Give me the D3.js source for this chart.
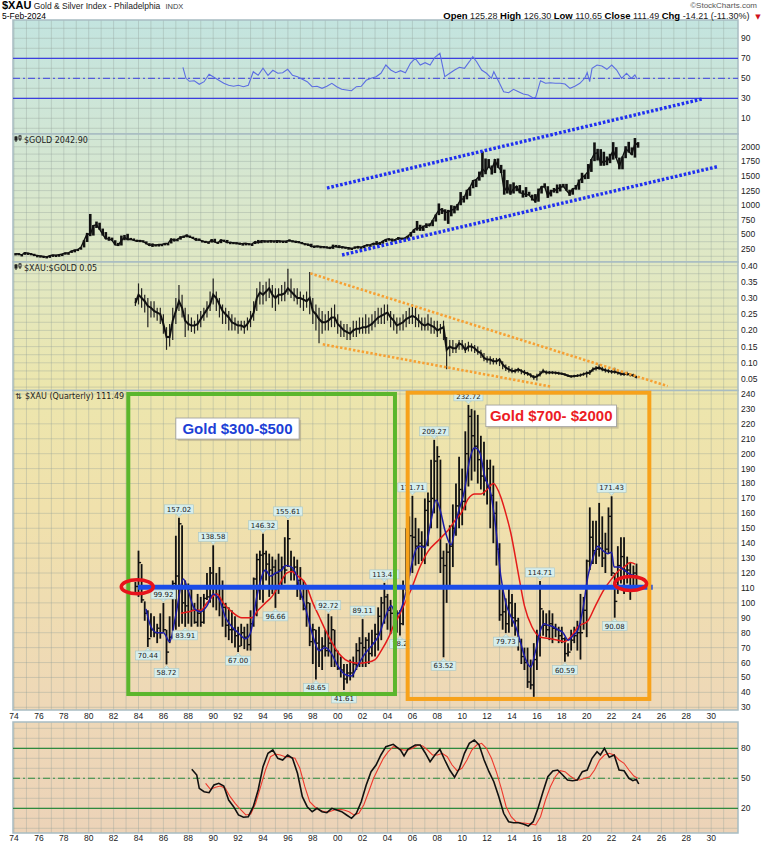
<!DOCTYPE html>
<html>
<head>
<meta charset="utf-8">
<script src="https://cdn.jsdelivr.net/npm/d3@7"></script>
<style>
  body { margin: 0; background: #fff; }
  text { font-family: 'DejaVu Sans', sans-serif; }
</style>
</head>
<body>
<div id="chart"></div>
<script>
// ---------------- data ----------------
const quote = [['Open', ' 125.28 '], ['High', ' 126.30 '], ['Low', ' 110.65 '], ['Close', ' 111.49 '], ['Chg', ' -14.21 (-11.30%) ']];

// $GOLD, quarterly, first bar 1974 Q1
const goldStart = 1974.125;
const goldClose = [170,165,150,187, 178,166,142,140, 129,124,116,134, 149,143,154,165, 181,183,217,226, 240,278,397,512, 494,653,666,590, 500,422,428,400, 320,315,397,448, 414,416,397,382,
  394,376,344,309, 327,317,326,327, 344,345,424,391, 421,447,460,484, 456,436,398,410, 383,373,366,401, 368,352,408,386, 355,367,354,353, 341,343,349,333, 337,376,355,391,
  389,385,394,383, 392,387,384,387, 396,382,379,369, 348,334,332,290, 297,296,293,287, 280,261,299,288, 277,288,273,272, 258,270,293,279, 301,318,324,347, 336,346,385,416,
  427,395,415,438, 428,436,473,513, 582,613,599,632, 662,650,742,834, 916,930,874,884, 916,934,1003,1096, 1113,1244,1307,1421, 1439,1500,1624,1566, 1668,1598,1772,1657, 1595,1234,1326,1202,
  1284,1327,1216,1199, 1183,1172,1114,1061, 1234,1321,1316,1152, 1249,1242,1280,1303, 1325,1251,1192,1282, 1292,1409,1472,1517, 1577,1781,1886,1895, 1708,1763,1743,1829, 1937,1807,1661,1824, 1969,1919,1866,2063,
  2043];
const goldHigh = [180,180,160,197, 186,180,168,145, 140,133,126,136, 152,150,155,166, 190,188,220,245, 252,280,400,525, 850,660,720,700, 600,540,460,445, 400,355,480,490, 510,440,430,410,
  405,400,380,350, 345,330,330,335, 350,350,430,430, 420,470,480,500, 480,460,440,430, 400,390,375,420, 425,375,415,410, 405,370,370,365, 360,345,350,350, 340,380,405,395,
  395,395,395,395, 390,395,390,390, 415,400,390,385, 370,350,340,340, 305,310,300,300, 295,290,325,320, 315,295,290,275, 270,295,295,290, 305,330,325,350, 385,370,390,418,
  430,430,418,455, 445,445,475,540, 585,730,665,650, 690,690,745,840, 1030,950,930,920, 1000,990,1020,1225, 1160,1265,1310,1430, 1445,1575,1920,1800, 1790,1680,1790,1800, 1690,1610,1430,1360,
  1390,1330,1345,1255, 1310,1230,1180,1190, 1285,1325,1375,1325, 1265,1295,1355,1360, 1365,1365,1265,1285, 1345,1440,1555,1520, 1705,1790,2075,1965, 1960,1915,1835,1880, 2080,1995,1815,1835, 2010,2085,1990,2150,
  2080];
const goldLow = [140,150,130,150, 170,164,128,130, 125,123,103,115, 130,140,143,154, 165,170,183,193, 233,238,277,370, 470,480,610,580, 480,420,390,390, 315,300,310,400, 400,405,395,375,
  370,370,330,305, 285,310,315,320, 330,335,345,380, 390,410,440,450, 440,430,395,390, 380,360,355,360, 365,345,350,380, 355,350,345,345, 340,335,340,330, 325,335,350,350,
  375,375,380,375, 372,380,380,380, 390,380,378,365, 340,330,315,285, 280,285,272,285, 280,255,252,280, 275,270,270,265, 255,255,265,270, 280,300,300,310, 320,320,340,370,
  400,375,385,405, 410,415,415,460, 525,565,560,560, 610,640,640,720, 830,850,735,680, 810,860,910,1000, 1045,1100,1160,1290, 1310,1420,1480,1530, 1640,1525,1550,1640, 1550,1180,1200,1180,
  1200,1240,1205,1130, 1140,1170,1080,1045, 1060,1200,1300,1125, 1150,1215,1205,1235, 1305,1250,1160,1180, 1265,1265,1380,1445, 1450,1570,1755,1765, 1675,1675,1685,1720, 1780,1805,1615,1615, 1805,1900,1860,1815,
  1985];

// $XAU:$GOLD ratio, quarterly from 1983 Q4
const ratioStart = 1983.75;
const ratioClose = [.284, .31,.30,.29,.275, .27,.26,.255,.25, .22,.18,.18,.23, .26,.29,.27,.23, .22,.215,.215,.22, .235,.25,.265,.28, .31,.30,.28,.26, .25,.24,.225,.22, .215,.215,.21,.22,
  .235,.255,.30,.317, .31,.32,.33,.31, .30,.31,.31,.315, .33,.32,.31,.30, .30,.295,.29,.30, .26,.25,.235,.225, .225,.23,.24,.24, .22,.21,.20,.195, .19,.20,.205,.205, .21,.21,.214,.22,
  .23,.24,.245,.25, .255,.24,.23,.215, .22,.225,.235,.24, .245,.24,.23,.22, .215,.22,.215,.21, .20,.205,.21,.14, .15,.145,.145,.16, .155,.14,.15,.15, .145,.135,.13,.115, .11,.11,.105,.105,
  .11,.095,.085,.08, .075,.075,.08,.075, .07,.067,.062,.055, .058,.065,.075,.07, .07,.07,.069,.068, .066,.064,.06,.058, .059,.06,.062,.065, .068,.07,.08,.083, .085,.08,.077,.075, .072,.072,.07,.066,
  .065,.066,.063,.061, .055];
const ratioHigh = [.30, .345,.33,.31,.30, .29,.29,.27,.27, .25,.21,.22,.27, .30,.34,.31,.27, .25,.24,.23,.25, .26,.27,.29,.32, .36,.32,.30,.28, .27,.26,.25,.24, .23,.23,.23,.24,
  .26,.29,.33,.35, .34,.35,.36,.34, .33,.33,.34,.35, .39,.36,.33,.33, .32,.31,.32,.38, .30,.28,.27,.26, .25,.26,.27,.28, .25,.23,.22,.22, .21,.23,.23,.24, .24,.25,.24,.25,
  .26,.27,.27,.28, .28,.26,.25,.24, .24,.25,.26,.27, .28,.27,.25,.24, .24,.25,.24,.23, .23,.22,.23,.18, .17,.17,.16,.17, .17,.16,.165,.16, .155,.15,.14,.13, .12,.12,.115,.115,
  .115,.105,.095,.09, .085,.082,.085,.08, .078,.072,.068,.062, .066,.075,.082,.076, .075,.074,.073,.072, .07,.068,.065,.062, .063,.065,.067,.07, .074,.078,.086,.09, .095,.088,.083,.08, .078,.085,.076,.072,
  .07,.072,.068,.066, .06];
const ratioLow = [.275, .28,.27,.255,.21, .24,.24,.23,.22, .19,.14,.15,.17, .22,.26,.24,.18, .20,.195,.19,.20, .21,.23,.24,.26, .28,.26,.24,.22, .22,.20,.20,.20, .19,.20,.19,.20,
  .21,.23,.26,.28, .28,.29,.30,.27, .26,.28,.29,.29, .31,.30,.29,.28, .27,.26,.27,.25, .22,.20,.16,.19, .20,.20,.21,.21, .19,.18,.18,.17, .17,.18,.18,.19, .19,.19,.19,.20,
  .21,.22,.22,.22, .23,.21,.20,.19, .20,.20,.21,.22, .22,.21,.21,.20, .20,.20,.19,.19, .18,.19,.17,.08, .12,.13,.13,.14, .14,.13,.135,.135, .13,.125,.115,.105, .10,.095,.095,.095,
  .09,.08,.075,.07, .068,.068,.07,.065, .062,.06,.055,.048, .045,.058,.068,.064, .065,.065,.064,.063, .062,.06,.056,.054, .055,.056,.057,.06, .055,.062,.072,.076, .078,.074,.07,.068, .066,.066,.063,.06,
  .06,.06,.058,.056, .052];

// $XAU quarterly bars, first bar plotted at 1983.75
const xauStart = 1983.75;
const xauHigh = [114, 135,126,101,95, 93,91,86,93, 99.92,82,91,115, 145,157.02,152,115, 113,111,100,106, 104,106,120,124, 138.58,120,124,115, 100,97,95,91, 84,86,84,86,
  95,117,133,135, 146.32,135,133,131, 129,133,131,144, 155.61,135,131,129, 124,115,109,100, 86,82,84,77, 82,92.72,91,82, 68,64,59,59, 62,64,73,77, 89.11,77,80,82,
  86,97,104,113.4, 106,102,97,95, 95,115,150,158, 171.71,157,150,148, 170,174,196,209.27, 205,196,135,140, 152,166,180,198, 190,215,232.72,230, 229,226,212,208,
  196,196,192,168, 140,112,103,110, 106,100,90,76, 70,70,62,73, 82,114.71,95,93, 95,93,86,84, 84,77,73,82, 84,88,106,104, 129,164,155,155, 167,158,147,164,
  171.43,120,138,144, 144,131,127,125, 126.3];
const xauLow = [106, 104,100,88,70.44, 77,77,73,76, 80,58.72,73,76, 82,84,86,83.91, 86,84,86,84, 84,86,102,100, 97,95,91,84, 77,75,73,70, 67.00,71,69,68,
  68,84,91,102, 100,115,104,106, 96.66,106,111,113, 124,115,115,104, 102,95,84,71, 59,48.65,57,55, 64,64,57,57, 55,50,41.61,46, 48,50,55,57, 57,57,59,64,
  64,68,75,86, 82,79,80,80, 78.2,85,108,118, 120,125,126,128, 126,138,150,160, 150,120,63.52,100, 112,124,145,150, 152,162,178,182, 188,180,176,172,
  166,150,140,125, 88,82,79.73,80, 84,78,68,59, 55,43,42,37, 55,64,78,77, 75,73,77,73, 73,60.59,64,68, 73,68,62,82, 77,122,126,126, 131,124,120,133,
  118,90.08,106,113, 106,113,102,109, 110.65];
const xauClose = [111, 127,102,93,76, 82,80,83,80, 82,67,77,113, 118,153,100,98, 109,95,87,93, 87,103,104,120, 111,104,102,97, 85,82,82,78, 71,80,77,72,
  86,116,129,132, 133,126,122,124, 120,122,124,122, 143,122,124,115, 104,96,100,74, 82,73,68,71, 68,73,82,68, 56,55,49,53, 53,59,68,73, 70,75,66,73,
  79,91,100,104, 95,93,84,93, 86,110,140,145, 144,138,140,138, 162,168,170,195, 198,130,125,134, 138,150,165,176, 168,200,225,212, 205,196,185,182,
  190,172,160,136, 92,94,86,100, 90,88,74,64, 60,47,45,62, 78,96,85,82, 86,83,82,78, 76,66,67,75, 78,80,80,95, 128,144,135,136, 140,130,136,158,
  120,101,125,131, 122,122,118,120, 111.49];

// swing labels: [bar index, text, side]
const xauSwings = [[4,'70.44','lo'],[9,'99.92','hi'],[10,'58.72','lo'],[14,'157.02','hi'],[16,'83.91','lo'],[25,'138.58','hi'],[33,'67.00','lo'],
  [41,'146.32','hi'],[45,'96.66','lo'],[49,'155.61','hi'],[58,'48.65','lo'],[62,'92.72','hi'],[67,'41.61','lo'],[73,'89.11','hi'],[80,'113.41','hi'],
  [85,'78.2','lo'],[89,'171.71','hi'],[96,'209.27','hi'],[99,'63.52','lo'],[107,'232.72','hi'],[119,'79.73','lo'],[130,'114.71','hi'],[138,'60.59','lo'],
  [153,'171.43','hi'],[154,'90.08','lo']];

// moving averages on the $XAU panel [year, value]
const xauMaFast = [[1984.6,96],[1985.0,84],[1985.5,80],[1986.0,80],[1986.5,74],[1987.0,92],[1987.6,116],[1988.0,108],[1988.5,96],[1989.0,94],[1989.5,98],
  [1990.0,106],[1990.5,102],[1991.0,90],[1991.5,84],[1992.0,80],[1992.6,76],[1993.0,80],[1993.5,104],[1994.2,122],[1994.6,118],[1995.0,120],[1995.5,122],
  [1995.8,125],[1996.3,124],[1996.7,118],[1997.0,108],[1997.4,97],[1998.0,78],[1998.5,68],[1999.0,70],[1999.5,66],[2000.0,58],[2000.6,52],[2001.1,51],
  [2001.6,58],[2002.2,66],[2002.8,72],[2003.3,78],[2003.8,90],[2004.3,98],[2004.7,92],[2005.1,96],[2005.5,108],[2005.9,124],[2006.3,136],[2006.6,138],
  [2007.0,137],[2007.5,155],[2007.9,169],[2008.3,160],[2008.6,149],[2009.1,139],[2009.6,158],[2010.2,176],[2010.6,196],[2011.0,204],[2011.4,201],
  [2011.8,185],[2012.3,173],[2012.7,150],[2013.1,118],[2013.5,100],[2013.9,91],[2014.3,84],[2014.7,73],[2015.1,62],[2015.5,57],[2015.9,68],[2016.3,82],
  [2016.6,86],[2016.9,85],[2017.3,84],[2017.7,82],[2018.1,80],[2018.5,75],[2018.9,78],[2019.3,82],[2019.7,96],[2020.1,118],[2020.5,130],[2020.9,138],
  [2021.3,135],[2021.7,133],[2022.0,134],[2022.2,124],[2022.6,124],[2023.0,122],[2023.5,119],[2024.0,118]];
const xauMaSlow = [[1987.4,93],[1988.0,94],[1988.5,95],[1989.0,95],[1989.5,100],[1990.3,106],[1990.8,100],[1991.5,94],[1992.3,90],[1993.1,90],[1993.6,95],
  [1994.2,100],[1994.7,104],[1995.3,112],[1995.9,120],[1996.3,121],[1996.8,118],[1997.4,113],[1998.0,100],[1998.5,91],[1999.0,82],[1999.5,74],[2000.1,66],
  [2000.6,62],[2001.2,60],[2001.7,59.5],[2002.3,60],[2003.0,62],[2003.5,68],[2004.1,77],[2004.5,85],[2004.9,91],[2005.4,100],[2005.9,109],[2006.6,124],
  [2007.3,135],[2008.1,142],[2008.9,149],[2009.5,156],[2009.9,160],[2010.5,170],[2011.0,173],[2011.5,173],[2012.0,176],[2012.5,180],[2013.1,171],[2013.5,160],
  [2013.9,147],[2014.5,120],[2015.0,98],[2015.6,84],[2016.3,77],[2017.1,76],[2017.7,75],[2018.2,74],[2018.8,78],[2019.3,84],[2020.1,88],[2020.7,98],
  [2021.4,109],[2022.0,116],[2022.5,121],[2023.0,124],[2023.5,127],[2023.9,126]];

// top panel oscillator [year, value]
const rsiTop = [[1987.57,61],[1987.81,50],[1988.09,47],[1988.48,47.5],[1988.88,44],[1989.27,46.6],[1989.67,54],[1990.06,51],[1990.45,48],[1990.85,45],
  [1991.24,43],[1991.64,42],[1992.03,43],[1992.43,41.6],[1992.82,43],[1993.22,56.6],[1993.61,53],[1994.0,60],[1994.4,53],[1994.79,58],[1995.19,55],
  [1995.58,55.6],[1995.98,59],[1996.37,53],[1996.77,51.6],[1997.16,49],[1997.55,46.6],[1997.95,41.6],[1998.34,42],[1998.74,40],[1999.13,42],[1999.53,45],
  [1999.92,41.6],[2000.32,39],[2000.71,38.3],[2001.11,37.6],[2001.5,41.6],[2001.89,42],[2002.29,48],[2002.68,50],[2003.08,51.6],[2003.47,55],[2003.87,63.3],
  [2004.26,58.3],[2004.66,55.6],[2005.05,57.6],[2005.44,55.6],[2005.84,65],[2006.23,70],[2006.63,63.3],[2007.02,65.6],[2007.42,63.3],[2007.81,71],[2008.21,75],
  [2008.6,51.6],[2009.0,55],[2009.39,58.3],[2009.78,61],[2010.18,60],[2010.57,66.6],[2010.85,71.6],[2011.16,66.6],[2011.56,58.3],[2011.95,55],[2012.35,50],
  [2012.54,56.6],[2012.94,46.6],[2013.33,36.6],[2013.73,35.6],[2014.12,39],[2014.52,36.6],[2014.91,34.3],[2015.31,33.3],[2015.7,30.3],[2015.9,31],[2016.29,47.6],
  [2016.69,45],[2017.08,45.6],[2017.48,45],[2017.87,45],[2018.26,44.3],[2018.66,40],[2019.05,42],[2019.45,45],[2019.84,50],[2020.04,55.6],[2020.24,46.6],
  [2020.43,60],[2020.83,63.3],[2021.22,62.3],[2021.62,59],[2022.01,63.3],[2022.41,58.3],[2022.8,50],[2023.2,55],[2023.59,50],[2023.87,53.3],[2024.06,49]];

// bottom panel oscillator: %K (black) and %D (red)
const stoK = [[1988.28,59],[1988.68,53.3],[1988.88,40],[1989.27,36.6],[1989.67,35.6],[1990.06,43.3],[1990.45,45],[1990.85,42.3],[1991.24,28.3],[1991.64,21.6],
  [1992.03,13.3],[1992.43,11],[1992.82,11.6],[1993.22,21.6],[1993.61,38.3],[1994.0,61.6],[1994.4,75],[1994.79,78.3],[1995.19,70],[1995.58,68.3],[1995.98,73.3],
  [1996.37,70],[1996.77,55],[1997.16,31.6],[1997.55,21.6],[1997.95,16.6],[1998.34,20],[1998.74,16.6],[1999.13,15.6],[1999.53,20],[1999.92,18.3],[2000.32,16.6],
  [2000.71,13.3],[2001.11,10],[2001.5,15],[2001.89,26.6],[2002.29,43.3],[2002.68,56.6],[2003.08,63.3],[2003.47,73.3],[2003.87,81.6],[2004.46,84],[2005.05,78.3],
  [2005.33,72.3],[2005.64,79],[2006.23,83.3],[2006.63,83.3],[2007.02,75.6],[2007.42,66.6],[2007.81,73.3],[2008.21,79],[2008.6,68.3],[2009.0,58.3],[2009.39,51],
  [2009.78,60],[2010.18,75],[2010.57,85],[2010.97,88.3],[2011.36,83.3],[2011.76,68.3],[2012.15,56.6],[2012.54,46.6],[2012.94,31.6],[2013.33,15],[2013.73,6.6],
  [2014.12,5.6],[2014.52,5.6],[2014.91,4.3],[2015.31,2.3],[2015.7,6.6],[2016.09,20],[2016.49,36.6],[2016.88,51.6],[2017.28,57.3],[2017.67,58.3],[2018.07,53.3],
  [2018.46,48.3],[2018.86,47.6],[2019.25,48.3],[2019.65,56.6],[2020.04,58.3],[2020.43,70],[2020.83,76.6],[2021.1,73.3],[2021.42,80],[2021.81,71],[2022.21,73.3],
  [2022.6,58.3],[2023.0,57.6],[2023.39,50],[2023.71,47.6],[2023.98,49],[2024.18,44.3]];
const stoD = [[1989.39,45],[1989.78,39],[1990.18,41],[1990.57,42.3],[1990.97,40],[1991.36,31.6],[1991.76,25],[1992.23,18.3],[1992.62,13.3],[1993.02,14.3],
  [1993.41,25],[1993.81,41.6],[1994.2,58.3],[1994.6,71.6],[1994.99,74.3],[1995.39,73.3],[1995.78,71.6],[1996.17,71],[1996.57,70],[1996.96,60],[1997.36,41.6],
  [1997.75,26.6],[1998.15,21.6],[1998.54,18.3],[1998.94,16.6],[1999.33,16.6],[1999.72,18.3],[2000.12,19],[2000.51,18.3],[2000.91,16.6],[2001.3,13.3],[2001.7,15],
  [2002.09,23.3],[2002.49,36.6],[2002.88,50],[2003.27,60],[2003.67,70],[2004.06,76.6],[2004.46,81.6],[2004.85,80],[2005.25,78.3],[2005.64,78.3],[2006.04,80],
  [2006.43,83.3],[2006.83,82.3],[2007.22,78.3],[2007.61,73.3],[2008.01,73.3],[2008.4,75],[2008.8,71.6],[2009.19,63.3],[2009.59,57.6],[2009.98,60],[2010.38,68.3],
  [2010.77,78.3],[2011.16,83.3],[2011.56,85],[2011.95,80],[2012.35,70],[2012.74,56.6],[2013.14,40],[2013.53,21.6],[2013.93,11.6],[2014.32,6.6],[2014.72,5.6],
  [2015.11,5],[2015.5,4.3],[2015.9,3.3],[2016.29,11.6],[2016.69,28.3],[2017.08,41.6],[2017.48,51.6],[2017.87,57.6],[2018.26,56.6],[2018.66,52.3],[2019.05,49],
  [2019.45,48.3],[2019.84,50],[2020.24,51.6],[2020.63,58.3],[2021.03,68.3],[2021.42,73.3],[2021.81,75],[2022.21,73.3],[2022.6,68.3],[2023.0,65],[2023.39,58.3],
  [2023.79,52.3],[2024.1,50]];

// drawn annotations, in data units
const goldChannel = [[[1999.14, 1294], [2029.26, 2818]], [[2000.35, 147], [2030.47, 1659]]];
const ratioWedge = [[[1997.8, 0.376], [2026.5, 0.028]], [[1998.8, 0.157], [2017.2, 0.026]]];
const eraBoxes = [[1983.18, 2004.6, 240, 38.9, '#5bb62c'], [2005.62, 2025.03, 240.9, 35.6, '#f7a21b']];
const eraNotes = [['Gold $300-$500', 1987.0, 1996.9, 223.9, 209.8, '#1c3fd6'], ['Gold $700- $2000', 2011.9, 2022.4, 232.6, 218.1, '#ec1c24']];
const xauLevel = [1983.96, 2025.3, 110.4];
const xauRings = [[1983.9, 110.8], [2023.53, 113]];

// ---------------- chart ----------------
const width = 765, height = 846;
const left = 13, right = 738;
const x = d3.scaleLinear().domain([1974, 2030]).range([14, 711.2]);

const panels = {
  rsi:   { top: 20,    bottom: 134,   y: d3.scaleLinear().domain([10, 90]).range([118.3, 38.3]),
           ticks: [10, 30, 50, 70, 90], grid: d3.range(0, 110, 10), fmt: d => d },
  gold:  { top: 134,   bottom: 262,   y: d3.scaleLinear().domain([0, 2000]).range([263.6, 146.8]),
           ticks: d3.range(250, 2001, 250), grid: d3.range(125, 2300, 125), fmt: d => d },
  ratio: { top: 262,   bottom: 390.5, y: d3.scaleLinear().domain([0.05, 0.40]).range([379, 265.6]),
           ticks: d3.range(1, 9).map(d => d * 0.05), grid: d3.range(1, 17).map(d => d * 0.025), fmt: d3.format('.2f') },
  xau:   { top: 390.5, bottom: 710,   y: d3.scaleLinear().domain([30, 240]).range([707.3, 394]),
           ticks: d3.range(30, 241, 10), grid: d3.range(30, 241, 10), fmt: d => d },
  sto:   { top: 722,   bottom: 833,   y: d3.scaleLinear().domain([20, 80]).range([808.3, 748.3]),
           ticks: [20, 50, 80], grid: d3.range(0, 110, 10), fmt: d => d }
};

const svg = d3.select('#chart').append('svg')
  .attr('width', width).attr('height', height);
svg.append('rect').attr('width', width).attr('height', height).attr('fill', '#fff');

const grad = svg.append('defs').append('linearGradient')
  .attr('id', 'bg').attr('gradientUnits', 'userSpaceOnUse')
  .attr('x1', 0).attr('x2', 0).attr('y1', 20).attr('y2', 833);
[[0, '#c3e4df'], [0.14, '#d1e6d5'], [0.3, '#e0e8c4'], [0.45, '#ece6ad'], [0.6, '#f0e1ac'], [0.84, '#eed8b7'], [1, '#ecd3b8']]
  .forEach(s => grad.append('stop').attr('offset', s[0]).attr('stop-color', s[1]));

Object.values(panels).forEach(p => {
  const g = svg.append('g');
  g.append('rect').attr('x', left).attr('y', p.top)
    .attr('width', right - left).attr('height', p.bottom - p.top)
    .attr('fill', 'url(#bg)');
  g.selectAll('line.v').data(d3.range(1974, 2032)).join('line')
    .attr('x1', d => x(d)).attr('x2', d => x(d))
    .attr('y1', p.top).attr('y2', p.bottom)
    .attr('stroke', '#8e9f98').attr('stroke-opacity', 0.35);
  g.selectAll('line.h').data(p.grid.filter(v => p.y(v) > p.top + 1 && p.y(v) < p.bottom - 1)).join('line')
    .attr('x1', left).attr('x2', right)
    .attr('y1', d => p.y(d)).attr('y2', d => p.y(d))
    .attr('stroke', '#8e9f98').attr('stroke-opacity', 0.35);
  g.append('rect').attr('x', left).attr('y', p.top)
    .attr('width', right - left).attr('height', p.bottom - p.top)
    .attr('fill', 'none').attr('stroke', '#a8bcc2').attr('stroke-width', 1.5);
  g.append('g').selectAll('text').data(p.ticks).join('text')
    .attr('x', right + 3).attr('y', d => p.y(d)).attr('dy', '0.35em')
    .style('font-family', "'Liberation Sans', sans-serif").style('font-size', '8.5px')
    .attr('fill', '#222').text(p.fmt);
});

// year labels
[716, 838].forEach(yy => {
  svg.append('g').selectAll('text').data(d3.range(1974, 2031, 2)).join('text')
    .attr('x', d => x(d)).attr('y', yy).attr('dy', '0.35em').attr('text-anchor', 'middle')
    .style('font-family', "'Liberation Sans', sans-serif").style('font-size', '8.5px')
    .attr('fill', '#222').text(d => String(d % 100).padStart(2, '0'));
});

// header
const narrow = "'Liberation Sans Narrow', 'Arial Narrow', 'Liberation Sans', sans-serif";
const h1 = svg.append('text').attr('x', 2).attr('y', 8.5).style('font-family', narrow);
h1.append('tspan').text('$XAU').style('font-weight', 'bold').style('font-size', '11px');
h1.append('tspan').text(' Gold & Silver Index - Philadelphia').style('font-size', '8.5px').attr('fill', '#222');
h1.append('tspan').text(' INDX').style('font-size', '7.5px').attr('fill', '#444').attr('dx', 3);
svg.append('text').attr('x', 757).attr('y', 8).attr('text-anchor', 'end')
  .style('font-family', narrow).style('font-size', '8px').attr('fill', '#555').text('©StockCharts.com');
svg.append('text').attr('x', 2).attr('y', 18.5).style('font-family', narrow).style('font-size', '8.5px').text('5-Feb-2024');
const h2 = svg.append('text').attr('x', 752).attr('y', 18.5).attr('text-anchor', 'end')
  .style('font-family', narrow).style('font-size', '9px').style('white-space', 'pre');
quote.forEach(q => {
  h2.append('tspan').text(q[0]).style('font-weight', 'bold').style('font-size', '9.5px');
  h2.append('tspan').text(q[1]).attr('fill', '#222');
});
svg.append('text').attr('x', 758).attr('y', 18.5).attr('text-anchor', 'middle')
  .style('font-size', '7px').attr('fill', '#d0121b').text('▼');

// small candle icon used by panel titles
const icon = (px, py) => {
  const g = svg.append('g').attr('stroke', '#222').attr('stroke-width', 1);
  g.append('line').attr('x1', px + 1).attr('x2', px + 1).attr('y1', py - 6).attr('y2', py);
  g.append('rect').attr('x', px).attr('y', py - 5).attr('width', 2).attr('height', 3).attr('fill', '#222');
  g.append('line').attr('x1', px + 5).attr('x2', px + 5).attr('y1', py - 7).attr('y2', py - 1);
  g.append('rect').attr('x', px + 4).attr('y', py - 6).attr('width', 2).attr('height', 3).attr('fill', '#fff');
};
const title = (px, py, txt) => svg.append('text').attr('x', px).attr('y', py)
  .style('font-size', '8px').attr('fill', '#222').text(txt);

// ---- top oscillator panel ----
{
  const p = panels.rsi;
  [70, 30].forEach(v => svg.append('line').attr('x1', left).attr('x2', right)
    .attr('y1', p.y(v)).attr('y2', p.y(v)).attr('stroke', '#3b3fe0').attr('stroke-width', 1.2));
  svg.append('line').attr('x1', left).attr('x2', right).attr('y1', p.y(50)).attr('y2', p.y(50))
    .attr('stroke', '#3b3fe0').attr('stroke-width', 1).attr('stroke-dasharray', '7,3,2,3');
  svg.append('path').datum(rsiTop)
    .attr('d', d3.line().x(d => x(d[0])).y(d => p.y(d[1])))
    .attr('fill', 'none').attr('stroke', '#5c6ee2').attr('stroke-width', 1.1);
}

// ---- gold panel ----
{
  const p = panels.gold;
  icon(15, 142);
  title(24, 142.5, '$GOLD 2042.90');
  svg.append('g').selectAll('rect').data(goldClose).join('rect')
    .attr('x', (d, i) => x(goldStart + i * 0.25) - 1.3).attr('width', 2.6)
    .attr('y', (d, i) => p.y(goldHigh[i]))
    .attr('height', (d, i) => Math.max(2.2, p.y(goldLow[i]) - p.y(goldHigh[i])))
    .attr('fill', '#111');
  svg.append('path').datum(goldClose)
    .attr('d', d3.line().x((d, i) => x(goldStart + i * 0.25)).y(d => p.y(d)))
    .attr('fill', 'none').attr('stroke', '#111').attr('stroke-width', 1.4);
  goldChannel.forEach(seg => svg.append('line')
    .attr('x1', x(seg[0][0])).attr('y1', p.y(seg[0][1]))
    .attr('x2', x(seg[1][0])).attr('y2', p.y(seg[1][1]))
    .attr('stroke', '#1f2ff0').attr('stroke-width', 3.4).attr('stroke-dasharray', '2.6,1.9'));
}

// ---- ratio panel ----
{
  const p = panels.ratio;
  icon(15, 270);
  title(24, 270.5, '$XAU:$GOLD 0.05');
  svg.append('g').selectAll('line').data(ratioClose).join('line')
    .attr('x1', (d, i) => x(ratioStart + i * 0.25)).attr('x2', (d, i) => x(ratioStart + i * 0.25))
    .attr('y1', (d, i) => p.y(ratioHigh[i])).attr('y2', (d, i) => p.y(ratioLow[i]))
    .attr('stroke', '#222').attr('stroke-width', 1.2);
  svg.append('path').datum(ratioClose)
    .attr('d', d3.line().x((d, i) => x(ratioStart + i * 0.25)).y(d => p.y(d)))
    .attr('fill', 'none').attr('stroke', '#111').attr('stroke-width', 2);
  ratioWedge.forEach(seg => svg.append('line')
    .attr('x1', x(seg[0][0])).attr('y1', p.y(seg[0][1]))
    .attr('x2', x(seg[1][0])).attr('y2', p.y(seg[1][1]))
    .attr('stroke', '#f7a033').attr('stroke-width', 2.6).attr('stroke-dasharray', '2.4,2'));
}

// ---- XAU quarterly panel ----
{
  const p = panels.xau;
  svg.append('text').attr('x', 15).attr('y', 398.5).style('font-size', '8px').attr('fill', '#222').text('⇅');
  title(25, 398.5, '$XAU (Quarterly) 111.49');
  const bx = i => x(xauStart + i * 0.25);
  const bars = svg.append('g').attr('stroke', '#111');
  bars.selectAll('line.hl').data(xauClose).join('line')
    .attr('x1', (d, i) => bx(i)).attr('x2', (d, i) => bx(i))
    .attr('y1', (d, i) => p.y(xauHigh[i])).attr('y2', (d, i) => p.y(xauLow[i]))
    .attr('stroke-width', 1.8);
  bars.selectAll('line.c').data(xauClose).join('line')
    .attr('x1', (d, i) => bx(i)).attr('x2', (d, i) => bx(i) + 2.6)
    .attr('y1', d => p.y(d)).attr('y2', d => p.y(d))
    .attr('stroke-width', 1.4);

  const ma = d3.line().x(d => x(d[0])).y(d => p.y(d[1])).curve(d3.curveMonotoneX);
  svg.append('path').datum(xauMaSlow).attr('d', ma)
    .attr('fill', 'none').attr('stroke', '#e41b1b').attr('stroke-width', 1.5);
  svg.append('path').datum(xauMaFast).attr('d', ma)
    .attr('fill', 'none').attr('stroke', '#1c1ca6').attr('stroke-width', 1.5);

  svg.append('line').attr('x1', x(xauLevel[0])).attr('x2', x(xauLevel[1]))
    .attr('y1', p.y(xauLevel[2])).attr('y2', p.y(xauLevel[2]))
    .attr('stroke', '#1b4ce8').attr('stroke-width', 5);

  // swing labels
  const lab = svg.append('g');
  xauSwings.forEach(([i, txt, side]) => {
    const cx = bx(i);
    const w = txt.length * 4.35 + 3, h = 9;
    const tip = side === 'hi' ? p.y(xauHigh[i]) - 1 : p.y(xauLow[i]) + 1;
    const y0 = side === 'hi' ? tip - 3 - h : tip + 3;
    const edge = side === 'hi' ? y0 + h : y0;
    lab.append('path')
      .attr('d', `M${cx - 3},${edge}L${cx + 3},${edge}L${cx},${tip}Z`)
      .attr('fill', '#d3eceb').attr('stroke', '#a9c7c6').attr('stroke-width', 0.6);
    lab.append('rect').attr('x', cx - w / 2).attr('y', y0).attr('width', w).attr('height', h)
      .attr('fill', '#d6eeed').attr('stroke', '#a9c7c6').attr('stroke-width', 0.6);
    lab.append('text').attr('x', cx).attr('y', y0 + h / 2).attr('dy', '0.35em')
      .attr('text-anchor', 'middle').style('font-size', '7px').attr('fill', '#222').text(txt);
  });

  eraBoxes.forEach(([t0, t1, v0, v1, c]) => svg.append('rect')
    .attr('x', x(t0)).attr('y', p.y(v0)).attr('width', x(t1) - x(t0)).attr('height', p.y(v1) - p.y(v0))
    .attr('fill', 'none').attr('stroke', c).attr('stroke-width', 4));

  eraNotes.forEach(([txt, t0, t1, v0, v1, c]) => {
    const bxx = x(t0), byy = p.y(v0), bw = x(t1) - x(t0), bh = p.y(v1) - p.y(v0);
    svg.append('rect').attr('x', bxx + 2).attr('y', byy + 2).attr('width', bw).attr('height', bh).attr('fill', '#b5ab8c').attr('opacity', 0.6);
    svg.append('rect').attr('x', bxx).attr('y', byy).attr('width', bw).attr('height', bh)
      .attr('fill', '#fff').attr('stroke', '#9a9a9a').attr('stroke-width', 0.8);
    svg.append('text').attr('x', bxx + bw / 2).attr('y', byy + bh / 2).attr('dy', '0.36em')
      .attr('text-anchor', 'middle').style('font-family', "'Liberation Sans', Arial, sans-serif")
      .style('font-weight', 'bold').style('font-size', '15px').attr('fill', c).text(txt);
  });

  xauRings.forEach(([t, v]) => svg.append('ellipse')
    .attr('cx', x(t)).attr('cy', p.y(v)).attr('rx', 16).attr('ry', 7)
    .attr('fill', 'none').attr('stroke', '#e8121b').attr('stroke-width', 3.5));
}

// ---- bottom oscillator panel ----
{
  const p = panels.sto;
  [80, 20].forEach(v => svg.append('line').attr('x1', left).attr('x2', right)
    .attr('y1', p.y(v)).attr('y2', p.y(v)).attr('stroke', '#2f8a3e').attr('stroke-width', 1.3));
  svg.append('line').attr('x1', left).attr('x2', right).attr('y1', p.y(50)).attr('y2', p.y(50))
    .attr('stroke', '#2f8a3e').attr('stroke-width', 1.1).attr('stroke-dasharray', '7,3,2,3');
  const ln = d3.line().x(d => x(d[0])).y(d => p.y(d[1]));
  svg.append('path').datum(stoD).attr('d', ln)
    .attr('fill', 'none').attr('stroke', '#ee3a2e').attr('stroke-width', 1.1);
  svg.append('path').datum(stoK).attr('d', ln)
    .attr('fill', 'none').attr('stroke', '#111').attr('stroke-width', 1.6);
}
</script>
</body>
</html>
